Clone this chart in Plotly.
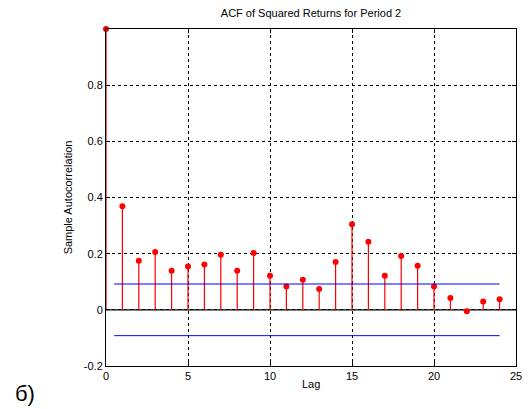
import plotly.graph_objects as go

lags = list(range(25))
acf = [1.0, 0.369, 0.175, 0.206, 0.139, 0.154, 0.161, 0.196, 0.139, 0.202,
       0.121, 0.083, 0.107, 0.074, 0.170, 0.305, 0.242, 0.121, 0.192, 0.157,
       0.083, 0.042, -0.005, 0.030, 0.038]
bound = 0.092
bound_x = [0.5, 24]
y_ticks = [-0.2, 0, 0.2, 0.4, 0.6, 0.8]
y_ticklabels = ["-0.2", "0", "0.2", "0.4", "0.6", "0.8"]
x_ticks = [0, 5, 10, 15, 20, 25]

fig = go.Figure()

# stems
stem_x, stem_y = [], []
for lag, v in zip(lags, acf):
    stem_x += [lag, lag, None]
    stem_y += [0, v, None]
fig.add_trace(go.Scatter(x=stem_x, y=stem_y, mode="lines",
                         line=dict(color="red", width=1.2), hoverinfo="skip"))
fig.add_trace(go.Scatter(x=lags, y=acf, mode="markers",
                         marker=dict(color="red", size=6), cliponaxis=False))

# confidence bounds
for b in (bound, -bound):
    fig.add_trace(go.Scatter(x=bound_x, y=[b, b], mode="lines",
                             line=dict(color="blue", width=1)))

axis_common = dict(
    showline=True, linecolor="black", linewidth=1, mirror="ticks",
    ticks="inside", ticklen=4, tickcolor="black",
    showgrid=True, gridcolor="black", griddash="dot", gridwidth=1,
    zeroline=False, tickfont=dict(size=11, color="black"), automargin=False,
)

fig.update_xaxes(range=[0, 25], tickvals=x_ticks, **axis_common)
fig.update_yaxes(range=[-0.2, 1], tickvals=y_ticks, ticktext=y_ticklabels,
                 title=dict(text="Sample Autocorrelation",
                            font=dict(size=11, color="black"), standoff=8),
                 **axis_common)

# zero line
fig.add_shape(type="line", xref="paper", x0=0, x1=1, yref="y", y0=0, y1=0,
              line=dict(color="black", width=1.2), layer="below")

fig.add_annotation(text="Lag", xref="paper", yref="paper", x=0.5, y=0,
                   yshift=-18, yanchor="middle", showarrow=False,
                   font=dict(size=11, color="black"))
fig.add_annotation(text="б)", xref="paper", yref="paper", x=-0.227, y=-0.083,
                   xanchor="left", yanchor="middle", showarrow=False,
                   font=dict(size=22, color="black"))

fig.update_layout(
    width=522, height=401,
    margin=dict(l=98, r=14, t=21, b=43),
    paper_bgcolor="white", plot_bgcolor="white",
    showlegend=False,
    font=dict(family="Liberation Sans, Arial, sans-serif", color="black"),
    title=dict(text="ACF of Squared Returns for Period 2", x=0.5, xref="paper",
               y=0.9875, yanchor="middle", font=dict(size=11, color="black")),
)

fig.write_html("out.html")
